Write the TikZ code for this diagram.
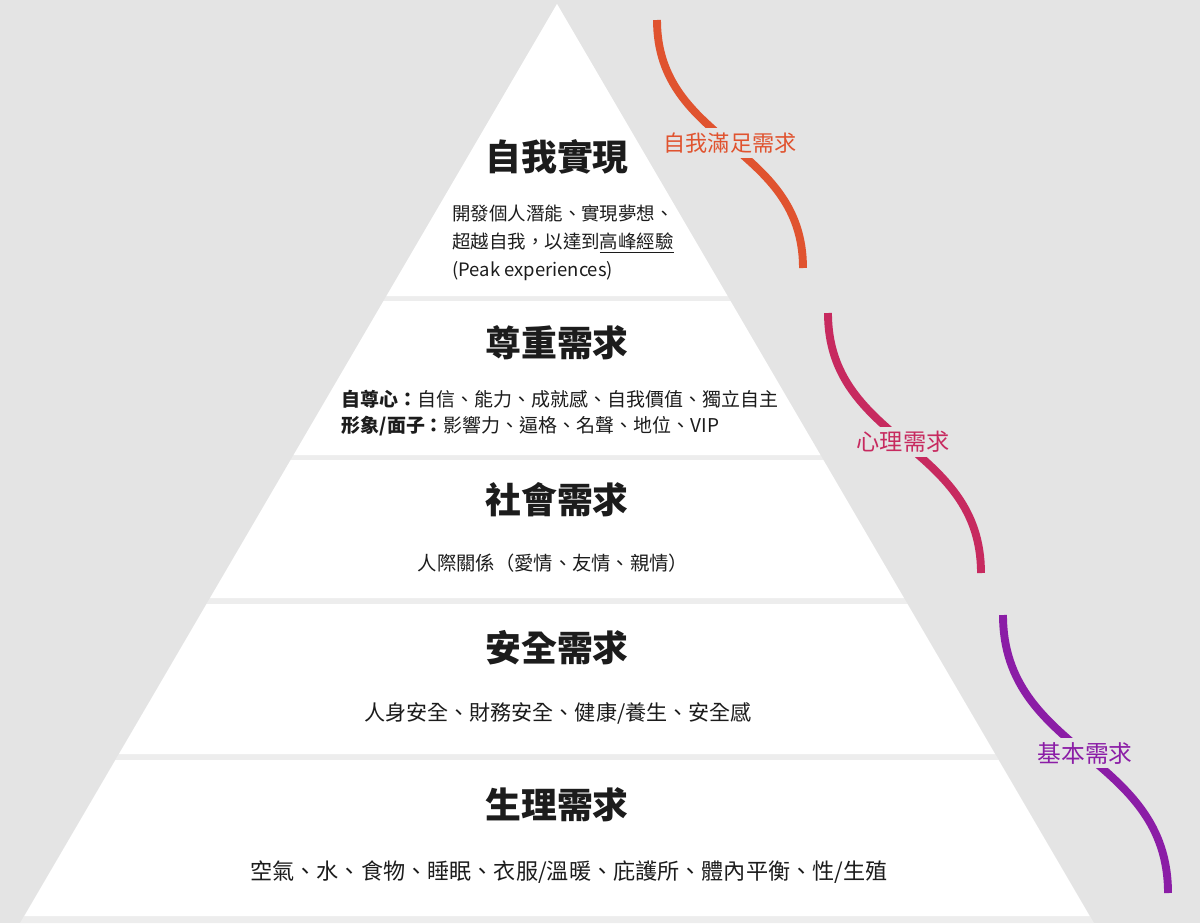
\documentclass[tikz,border=0pt]{standalone}
\usepackage{fontspec}
\setmainfont{Noto Sans CJK TC}
\usepackage{tikz}
\definecolor{PyrBack}{HTML}{E4E4E4}
\definecolor{PyrGap}{HTML}{EDEDED}
\definecolor{PyrText}{HTML}{1C1C1C}
\definecolor{SelfCurve}{HTML}{E0532F}
\definecolor{MindCurve}{HTML}{C72A5F}
\definecolor{BaseCurve}{HTML}{8B1DA6}

\begin{document}
\begin{tikzpicture}[x=0.02cm,y=-0.02cm,
    layertitle/.style={font=\bfseries\fontsize{20.4}{24}\selectfont,text=PyrText},
    layerbody/.style={text=PyrText,inner sep=0pt},
    needcurve/.style={line width=4.5pt},
    needlabel/.style={fill=PyrBack,inner sep=2.5pt}]
    \fill[PyrBack] (0,0) rectangle (1200,923);
    \useasboundingbox (0,0) rectangle (1200,923);
    \fill[PyrGap] (557,4) -- (1094,923) -- (20,923) -- cycle;
    \foreach \ya/\yb in {4/296,301/455,460/598,604/754,760/916} {
      \pgfmathsetmacro\la{557-0.584*(\ya-4)}
      \pgfmathsetmacro\ra{557+0.584*(\ya-4)}
      \pgfmathsetmacro\lb{557-0.584*(\yb-4)}
      \pgfmathsetmacro\rb{557+0.584*(\yb-4)}
      \fill[white] (\la,\ya) -- (\ra,\ya) -- (\rb,\yb) -- (\lb,\yb) -- cycle;
    }

    \node[layertitle] (selfact) at (557,157) {自我實現};
    \node[layerbody,align=left,font=\fontsize{10.5}{15.9}\selectfont] (selfacttext) at (563,243)
      {開發個人潛能、實現夢想、\\超越自我，以達到\underline{高峰經驗}\\(Peak experiences)};

    \node[layertitle] (esteem) at (557,343) {尊重需求};
    \node[layerbody,align=left,font=\fontsize{10.8}{15.3}\selectfont] (esteemtext) at (560,413)
      {\textbf{自尊心：}自信、能力、成就感、自我價值、獨立自主\\\textbf{形象/面子：}影響力、逼格、名聲、地位、VIP};

    \node[layertitle] (social) at (557,500) {社會需求};
    \node[layerbody,font=\fontsize{11}{14}\selectfont] (socialtext) at (553,563) {人際關係（愛情、友情、親情）};

    \node[layertitle] (safety) at (557,648) {安全需求};
    \node[layerbody,font=\fontsize{12}{14}\selectfont] (safetytext) at (558,713) {人身安全、財務安全、健康/養生、安全感};

    \node[layertitle] (physio) at (557,805) {生理需求};
    \node[layerbody,font=\fontsize{12.6}{15}\selectfont] (physiotext) at (569,872) {空氣、水、食物、睡眠、衣服/溫暖、庇護所、體內平衡、性/生殖};

    % brackets on the right
    \coordinate (selftop) at (657,20);
    \coordinate (selfbot) at (803,268);
    \draw[needcurve,SelfCurve] (selftop) .. controls (657,144) and (803,144) .. (selfbot);
    \node[needlabel,text=SelfCurve,font=\fontsize{12.6}{15}\selectfont] (selflabel) at (730,143) {自我滿足需求};

    \coordinate (mindtop) at (828,313);
    \coordinate (mindbot) at (981,573);
    \draw[needcurve,MindCurve] (mindtop) .. controls (828,443) and (981,443) .. (mindbot);
    \node[needlabel,text=MindCurve,font=\fontsize{13.2}{15}\selectfont] (mindlabel) at (903,442) {心理需求};

    \coordinate (basetop) at (1003,615);
    \coordinate (basebot) at (1168,893);
    \draw[needcurve,BaseCurve] (basetop) .. controls (1003,754) and (1168,754) .. (basebot);
    \node[needlabel,text=BaseCurve,font=\fontsize{13.5}{15}\selectfont] (baselabel) at (1085,753) {基本需求};
\end{tikzpicture}
\end{document}
